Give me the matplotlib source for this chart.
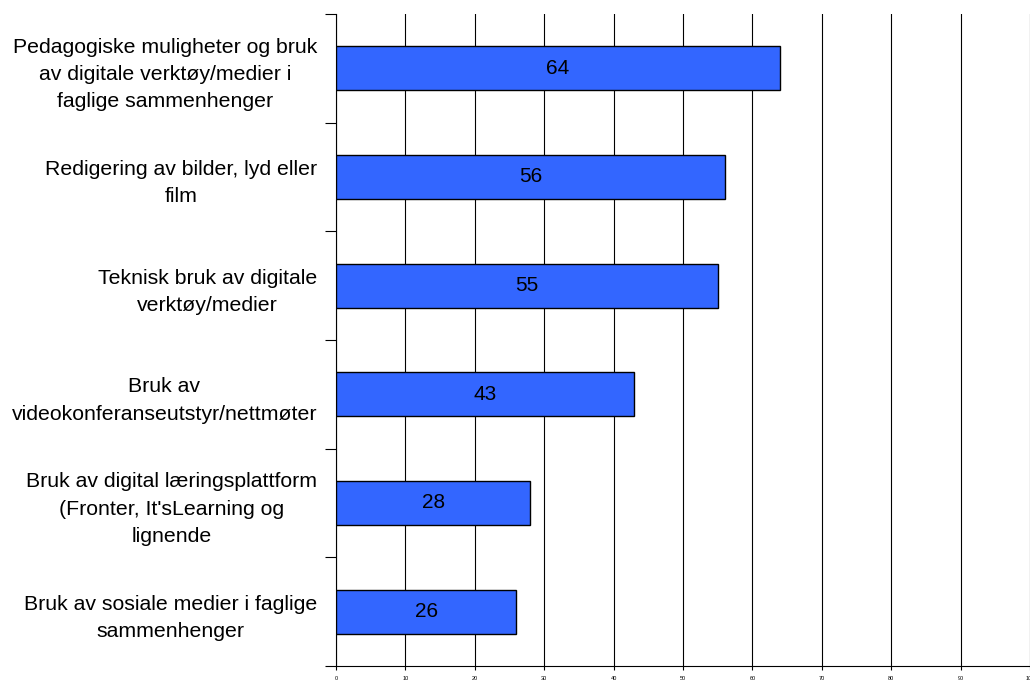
import numpy as np
import matplotlib.pyplot as plt

plt.rcParams['font.family'] = ['Liberation Sans', 'DejaVu Sans']

# categories top to bottom
categories = [
    "Pedagogiske muligheter og bruk\nav digitale verktøy/medier i\nfaglige sammenhenger",
    "Redigering av bilder, lyd eller\nfilm",
    "Teknisk bruk av digitale\nverktøy/medier",
    "Bruk av\nvideokonferanseutstyr/nettmøter",
    "Bruk av digital læringsplattform\n(Fronter, It'sLearning og\nlignende",
    "Bruk av sosiale medier i faglige\nsammenhenger",
]
values = [64, 56, 55, 43, 28, 26]
xticks = np.arange(0, 101, 10)

fig = plt.figure(figsize=(10.3, 6.8), dpi=100)
ax = fig.add_axes([336/1030, 14/680, 1 - 336/1030, 1 - 28/680])

y = np.arange(len(categories))
bars = ax.barh(y, values, height=0.405, color='#3366FF', edgecolor='black', linewidth=1, zorder=3)

for yi, v in zip(y, values):
    ax.text(v / 2, yi, str(v), ha='center', va='center', fontsize=15, zorder=4)

ax.set_xlim(0, 100)
ax.set_ylim(len(categories) - 0.5, -0.5)
ax.set_xticks(xticks)
ax.set_xticklabels([str(t) for t in xticks], fontsize=4)
ax.tick_params(axis='x', length=3, pad=4, width=0.8)
ax.grid(axis='x', color='black', linewidth=0.8, zorder=0)

# boundaries as major ticks, labels on minor ticks
ax.set_yticks(np.arange(-0.5, len(categories), 1))
ax.set_yticklabels([])
ax.tick_params(axis='y', which='major', length=8, width=0.8)
ax.set_yticks(y, minor=True)
ax.set_yticklabels(categories, minor=True, fontsize=15.3, multialignment='center', linespacing=1.55)
ax.tick_params(axis='y', which='minor', length=0, pad=13.5)

for s in ['top', 'right']:
    ax.spines[s].set_visible(False)
ax.spines['left'].set_linewidth(0.8)
ax.spines['bottom'].set_linewidth(0.8)

fig.savefig('out.png', dpi=100)
